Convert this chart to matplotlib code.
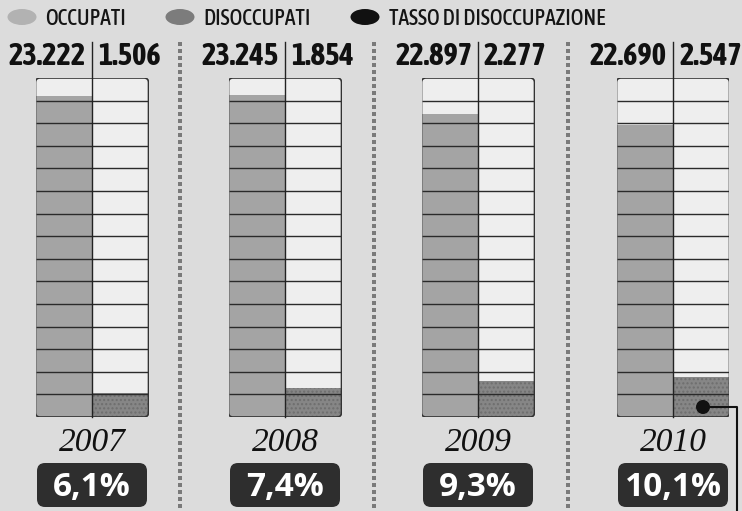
import numpy as np
import matplotlib.pyplot as plt
from matplotlib import font_manager
from matplotlib.patches import FancyBboxPatch, Ellipse, Circle

# dati (migliaia)
years = ['2007', '2008', '2009', '2010']
occupati = [23.222, 23.245, 22.897, 22.690]
disoccupati = [1.506, 1.854, 2.277, 2.547]
tasso = ['6,1%', '7,4%', '9,3%', '10,1%']
legend_labels = ['OCCUPATI', 'DISOCCUPATI', 'TASSO DI DISOCCUPAZIONE']

ROWS = 15
OCC_BASE, OCC_TOP = 17.33, 23.55   # scala (troncata) della colonna occupati
DIS_TOP = 21.5                      # scala della colonna disoccupati

W, H = 742, 511

# condensed font if there is one, else DejaVu at a smaller size
avail = {f.name for f in font_manager.fontManager.ttflist}
cond = next((n for n in ['Asap Condensed', 'Barlow Condensed', 'Archivo Narrow'] if n in avail), None)
if cond:
    narrow = [cond, 'DejaVu Sans']
    num_size, leg_size = 22, 15.5
else:
    narrow = ['DejaVu Sans']
    num_size, leg_size = 16, 12
bold_sans = ['Open Sans', 'DejaVu Sans']

fig = plt.figure(figsize=(W / 100, H / 100), dpi=100, facecolor='#dcdcdc')

# overlay in pixel coordinates for labels and decorations
ov = fig.add_axes([0, 0, 1, 1], zorder=5)
ov.set_xlim(0, W)
ov.set_ylim(H, 0)
ov.axis('off')
ov.patch.set_alpha(0)

centers = [92, 285, 478, 673]
box_w, box_top, box_bot = 113, 78, 417

for i, c in enumerate(centers):
    left = c - box_w / 2
    ax = fig.add_axes([left / W, 1 - box_bot / H, box_w / W, (box_bot - box_top) / H], zorder=2)
    ax.set_xlim(0, 2)
    ax.set_ylim(0, ROWS)
    ax.axis('off')
    asp = box_w / (box_bot - box_top)
    frame = FancyBboxPatch((0, 0), 1, 1, boxstyle='round,pad=0,rounding_size=0.04',
                           mutation_aspect=asp, transform=ax.transAxes,
                           fc='#eeeeee', ec='none', zorder=0)
    ax.add_patch(frame)
    occ_h = (occupati[i] - OCC_BASE) / (OCC_TOP - OCC_BASE) * ROWS
    dis_h = disoccupati[i] / DIS_TOP * ROWS
    b1 = ax.bar([0.5], [occ_h], width=1, color='#a4a4a4', zorder=1)
    b2 = ax.bar([1.5], [dis_h], width=1, color='#868686',
                hatch='....', edgecolor='#6e6e6e', linewidth=0, zorder=1)
    for b in list(b1) + list(b2):
        b.set_clip_path(frame)
    ax.hlines(np.arange(1, ROWS), 0, 2, color='#2a2a2a', lw=1, zorder=2)
    edge = FancyBboxPatch((0, 0), 1, 1, boxstyle='round,pad=0,rounding_size=0.04',
                          mutation_aspect=asp, transform=ax.transAxes,
                          fc='none', ec='#333333', lw=1.2, zorder=3)
    ax.add_patch(edge)

    # divider line + numbers
    ov.plot([c, c], [42, box_bot], color='#222222', lw=1)
    ov.text(c - 6, 65, f'{occupati[i]:.3f}', ha='right', va='baseline',
            fontsize=num_size, fontweight='bold', family=narrow, color='#111111')
    ov.text(c + 6, 65, f'{disoccupati[i]:.3f}', ha='left', va='baseline',
            fontsize=num_size, fontweight='bold', family=narrow, color='#111111')

    # year
    ov.text(c, 451, years[i], ha='center', va='baseline', fontsize=24,
            style='italic', family='Liberation Serif', color='#111111')

    # rate box
    ov.add_patch(FancyBboxPatch((c - 55, 463), 110, 44, boxstyle='round,pad=0,rounding_size=8',
                                fc='#2e2e2e', ec='none'))
    ov.text(c, 496, tasso[i], ha='center', va='baseline', fontsize=24,
            fontweight='bold', family=bold_sans, color='white')

# dotted separators
for x in [180, 374, 568]:
    ys = np.arange(44, H, 7)
    ov.scatter(np.full(len(ys), x), ys, marker='s', s=6, color='#7a7a7a', linewidths=0)

# legend
swatches = [(22, '#b2b2b2'), (180, '#7c7c7c'), (365, '#111111')]
text_x = [45, 203, 389]
for (sx, col), tx, lab in zip(swatches, text_x, legend_labels):
    ov.add_patch(Ellipse((sx, 17), 29, 16, fc=col, ec='none'))
    ov.text(tx, 25, lab, ha='left', va='baseline', fontsize=leg_size,
            fontweight='medium', family=narrow, color='#151515')

# connector from 2010 unemployed bar
ov.add_patch(Circle((703, 407), 7, fc='#111111', ec='none'))
ov.plot([703, 737, 737], [407, 407, H], color='#111111', lw=1.5)

fig.savefig('out.png', dpi=100, facecolor=fig.get_facecolor())
